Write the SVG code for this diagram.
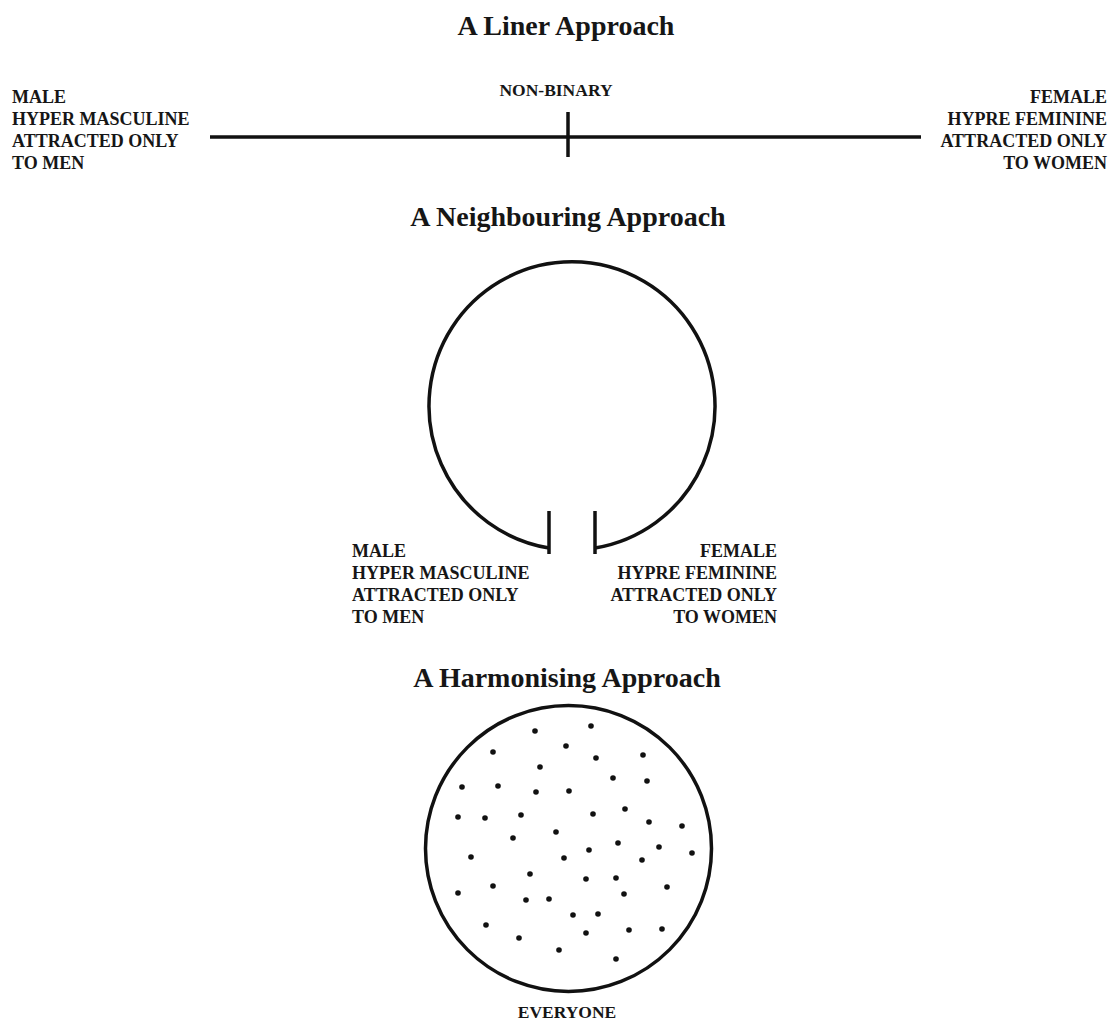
<svg xmlns="http://www.w3.org/2000/svg" width="1112" height="1021" viewBox="0 0 1112 1021">
<style>
text{font-family:"Liberation Serif","Times New Roman",serif;font-weight:bold;fill:#161616}
.title{font-size:28px;text-anchor:middle}
.lab{font-size:18px}
.r{text-anchor:end}
.sm{font-size:17.5px;text-anchor:middle}
.ln{stroke:#111;stroke-width:3.5;fill:none}
.dot{fill:#111}
</style>
<rect width="1112" height="1021" fill="#fff"/>

<g id="linear">
  <text class="title" x="566" y="35">A Liner Approach</text>
  <g id="linear-left">
    <text class="lab" x="12" y="103">MALE</text>
    <text class="lab" x="12" y="125">HYPER MASCULINE</text>
    <text class="lab" x="12" y="147">ATTRACTED ONLY</text>
    <text class="lab" x="12" y="169">TO MEN</text>
  </g>
  <g id="linear-mid">
    <text class="sm" x="556" y="96">NON-BINARY</text>
  </g>
  <g id="linear-right">
    <text class="lab r" x="1107" y="103">FEMALE</text>
    <text class="lab r" x="1107" y="125">HYPRE FEMININE</text>
    <text class="lab r" x="1107" y="147">ATTRACTED ONLY</text>
    <text class="lab r" x="1107" y="169">TO WOMEN</text>
  </g>
</g>

<g id="connectors">
  <line class="ln" x1="210" y1="137" x2="921" y2="137"/>
  <line class="ln" x1="568" y1="112" x2="568" y2="157"/>
  <path class="ln" d="M549 548 A143 144 0 1 1 595 548"/>
  <line class="ln" x1="549" y1="511" x2="549" y2="554"/>
  <line class="ln" x1="595" y1="511" x2="595" y2="554"/>
</g>

<g id="neighbouring">
  <text class="title" x="568" y="226">A Neighbouring Approach</text>
  <g id="neigh-left">
    <text class="lab" x="352" y="557">MALE</text>
    <text class="lab" x="352" y="579">HYPER MASCULINE</text>
    <text class="lab" x="352" y="601">ATTRACTED ONLY</text>
    <text class="lab" x="352" y="623">TO MEN</text>
  </g>
  <g id="neigh-right">
    <text class="lab r" x="777" y="557">FEMALE</text>
    <text class="lab r" x="777" y="579">HYPRE FEMININE</text>
    <text class="lab r" x="777" y="601">ATTRACTED ONLY</text>
    <text class="lab r" x="777" y="623">TO WOMEN</text>
  </g>
</g>

<g id="harmonising">
  <text class="title" x="567" y="687">A Harmonising Approach</text>
  <circle class="ln" cx="568.5" cy="848.5" r="143"/>
  <g id="dots">
    <circle class="dot" cx="535" cy="731" r="2.8"/>
    <circle class="dot" cx="591" cy="726" r="2.8"/>
    <circle class="dot" cx="493" cy="752" r="2.8"/>
    <circle class="dot" cx="566" cy="746" r="2.8"/>
    <circle class="dot" cx="596" cy="758" r="2.8"/>
    <circle class="dot" cx="643" cy="755" r="2.8"/>
    <circle class="dot" cx="540" cy="767" r="2.8"/>
    <circle class="dot" cx="613" cy="778" r="2.8"/>
    <circle class="dot" cx="647" cy="781" r="2.8"/>
    <circle class="dot" cx="462" cy="787" r="2.8"/>
    <circle class="dot" cx="498" cy="786" r="2.8"/>
    <circle class="dot" cx="536" cy="792" r="2.8"/>
    <circle class="dot" cx="569" cy="791" r="2.8"/>
    <circle class="dot" cx="458" cy="817" r="2.8"/>
    <circle class="dot" cx="485" cy="818" r="2.8"/>
    <circle class="dot" cx="521" cy="815" r="2.8"/>
    <circle class="dot" cx="593" cy="814" r="2.8"/>
    <circle class="dot" cx="625" cy="809" r="2.8"/>
    <circle class="dot" cx="649" cy="822" r="2.8"/>
    <circle class="dot" cx="682" cy="826" r="2.8"/>
    <circle class="dot" cx="513" cy="838" r="2.8"/>
    <circle class="dot" cx="556" cy="832" r="2.8"/>
    <circle class="dot" cx="618" cy="843" r="2.8"/>
    <circle class="dot" cx="589" cy="850" r="2.8"/>
    <circle class="dot" cx="659" cy="847" r="2.8"/>
    <circle class="dot" cx="471" cy="857" r="2.8"/>
    <circle class="dot" cx="564" cy="858" r="2.8"/>
    <circle class="dot" cx="642" cy="860" r="2.8"/>
    <circle class="dot" cx="692" cy="853" r="2.8"/>
    <circle class="dot" cx="530" cy="874" r="2.8"/>
    <circle class="dot" cx="586" cy="879" r="2.8"/>
    <circle class="dot" cx="616" cy="878" r="2.8"/>
    <circle class="dot" cx="493" cy="886" r="2.8"/>
    <circle class="dot" cx="458" cy="893" r="2.8"/>
    <circle class="dot" cx="526" cy="900" r="2.8"/>
    <circle class="dot" cx="549" cy="899" r="2.8"/>
    <circle class="dot" cx="624" cy="894" r="2.8"/>
    <circle class="dot" cx="667" cy="887" r="2.8"/>
    <circle class="dot" cx="573" cy="915" r="2.8"/>
    <circle class="dot" cx="598" cy="914" r="2.8"/>
    <circle class="dot" cx="486" cy="925" r="2.8"/>
    <circle class="dot" cx="586" cy="933" r="2.8"/>
    <circle class="dot" cx="629" cy="930" r="2.8"/>
    <circle class="dot" cx="662" cy="929" r="2.8"/>
    <circle class="dot" cx="519" cy="938" r="2.8"/>
    <circle class="dot" cx="559" cy="950" r="2.8"/>
    <circle class="dot" cx="616" cy="959" r="2.8"/>
  </g>
  <text class="sm" x="567" y="1018">EVERYONE</text>
</g>
</svg>
